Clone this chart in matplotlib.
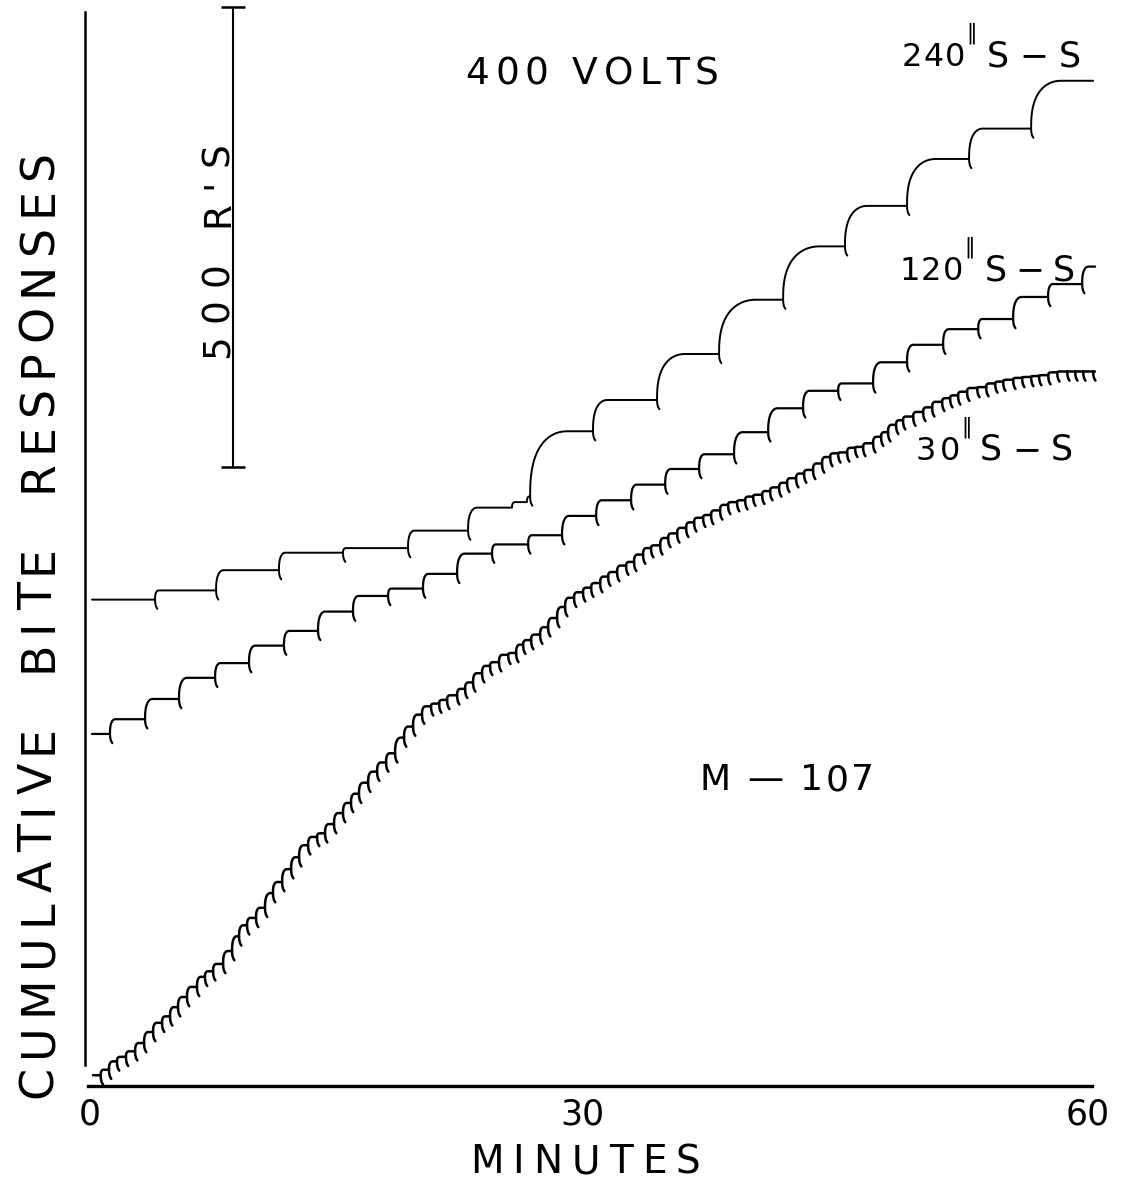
import numpy as np
import matplotlib
matplotlib.use("Agg")
import matplotlib.pyplot as plt
from matplotlib.collections import LineCollection
from matplotlib.transforms import IdentityTransform, ScaledTranslation

# ---------------- data (minutes, cumulative responses) ----------------
# 240" shock-shock interval
S240_START_T, S240_START_R, S240_END_T = 0.12, 520, 60.31
S240_SHOCK_T = [3.91, 7.58, 11.36, 15.21, 19.12, 22.73, 26.46, 30.24, 34.09,
                37.82, 41.67, 45.39, 49.12, 52.85, 56.58]
S240_LEVEL = [530, 552, 571, 576, 595, 620, 703, 737, 787,
              846, 904, 948, 999, 1032, 1084]
S240_INTERIM_T = [25.37, 26.27]
S240_INTERIM_R = [626, 632]

# 120" shock-shock interval
S120_START_T, S120_START_R, S120_END_T = 0.12, 374, 60.43
S120_SHOCK_T = [1.20, 3.31, 5.35, 7.52, 9.56, 11.66, 13.71, 15.81, 17.92, 20.02,
                22.07, 24.17, 26.34, 28.38, 30.43, 32.53, 34.58, 36.62, 38.72, 40.77,
                42.87, 44.98, 47.08, 49.12, 51.29, 53.40, 55.50, 57.60, 59.65]
S120_LEVEL = [390, 412, 435, 451, 470, 486, 507, 524, 532, 548,
              570, 580, 590, 611, 628, 645, 662, 678, 702, 728,
              747, 755, 778, 797, 814, 825, 849, 863, 882]

# 30" shock-shock interval
S30_START_T, S30_START_R, S30_END_T = 0.18, 3, 60.42
S30_SHOCK_T = [0.64, 1.14, 1.62, 2.16, 2.71, 3.25, 3.79, 4.33, 4.81, 5.29,
               5.83, 6.43, 6.91, 7.40, 8.00, 8.54, 8.96, 9.44, 9.98, 10.52,
               11.00, 11.55, 12.09, 12.57, 13.11, 13.65, 14.13, 14.67, 15.21, 15.69,
               16.17, 16.72, 17.26, 17.80, 18.34, 18.88, 19.42, 19.96, 20.50, 20.99,
               21.47, 22.07, 22.55, 23.03, 23.57, 24.05, 24.59, 25.14, 25.62, 26.04,
               26.52, 27.06, 27.54, 28.08, 28.56, 29.10, 29.64, 30.13, 30.67, 31.15,
               31.69, 32.23, 32.71, 33.25, 33.73, 34.28, 34.76, 35.30, 35.84, 36.32,
               36.86, 37.34, 37.88, 38.36, 38.90, 39.39, 39.87, 40.41, 40.89, 41.43,
               41.91, 42.45, 42.93, 43.47, 44.01, 44.50, 44.98, 45.52, 46.00, 46.48,
               47.08, 47.56, 47.98, 48.46, 48.88, 49.49, 50.09, 50.63, 51.23, 51.71,
               52.19, 52.73, 53.34, 53.88, 54.42, 54.90, 55.50, 56.04, 56.58, 57.06,
               57.61, 58.15, 58.75, 59.23, 59.71, 60.31]
S30_LEVEL = [9, 18, 23, 29, 38, 50, 60, 67, 77, 88,
             99, 110, 116, 124, 138, 154, 166, 174, 185, 201,
             213, 227, 240, 253, 262, 266, 276, 288, 299, 309,
             321, 333, 343, 353, 370, 382, 395, 404, 407, 411,
             416, 423, 430, 440, 448, 452, 460, 462, 471, 476,
             482, 490, 500, 512, 522, 528, 533, 538, 545, 550,
             557, 561, 569, 576, 579, 587, 592, 598, 604, 609,
             612, 617, 623, 626, 628, 632, 634, 638, 642, 647,
             652, 657, 661, 668, 675, 679, 680, 685, 686, 690,
             697, 702, 710, 715, 719, 724, 729, 735, 739, 742,
             746, 750, 751, 755, 757, 759, 761, 762, 763, 764,
             767, 768, 768, 768, 768, 768]

SCALE_BAR_T = 8.6
SCALE_BAR_BOTTOM = 664
SCALE_BAR_LEN = 500

X_TICKS = [0, 30, 60]
X_TICK_LABELS = ["0", "30", "60"]

# ---------------- figure ----------------
W, H, DPI = 1123, 1182, 100
FONT = "DejaVu Sans"
fig = plt.figure(figsize=(W / DPI, H / DPI), dpi=DPI)
fig.patch.set_facecolor("white")
ax = fig.add_axes([85.0 / W, 96.0 / H, (1097.96 - 85.0) / W, 1086.0 / H])
ax.set_xlim(-0.3, 60.6)
ax.set_ylim(-8.7, 1171.8)
ax.set_facecolor("none")

for s in ("top", "right"):
    ax.spines[s].set_visible(False)
ax.spines["left"].set_bounds(14, 1159)
ax.spines["left"].set_linewidth(1.8)
ax.spines["bottom"].set_bounds(-0.12, 60.24)
ax.spines["bottom"].set_linewidth(2.4)
ax.set_yticks([])
ax.set_xticks(X_TICKS)
ax.set_xticklabels(X_TICK_LABELS, fontsize=25, family=FONT)
ax.tick_params(axis="x", length=0, pad=8)
# the middle label sits slightly left of its tick in the original
mid = ax.get_xticklabels()[1]
mid.set_transform(mid.get_transform() + ScaledTranslation(-7 / DPI, 0, fig.dpi_scale_trans))


def draw_record(t0, r0, shock_t, shock_r, t_end, lw, interim_t=(), interim_r=()):
    events = [(t, r, True) for t, r in zip(shock_t, shock_r)]
    events += [(t, r, False) for t, r in zip(interim_t, interim_r)]
    events.sort()
    xs, ys, ticks = [t0], [r0], []
    prev = r0
    for i, (t, r, tick) in enumerate(events):
        nxt = events[i + 1][0] if i + 1 < len(events) else t_end
        xs.append(t)
        ys.append(prev)
        dr = r - prev
        if dr > 0:
            w = float(np.clip(0.16 + 0.0006 * dr ** 2, 0.16, 2.2))
            w = min(w, 0.65 * (nxt - t))
            u = np.linspace(0, 1, 20)
            xs.extend(t + w * (1 - np.cos(np.pi / 2 * u)) ** 1.25)
            ys.extend(prev + dr * np.sin(np.pi / 2 * u))
        if tick:
            ticks.append([(t, prev), (t + 0.015, prev - 4), (t + 0.06, prev - 7.5),
                          (t + 0.14, prev - 10)])
        prev = r
    xs.append(t_end)
    ys.append(prev)
    ax.plot(xs, ys, color="black", lw=lw, solid_joinstyle="round",
            solid_capstyle="round")
    ax.add_collection(LineCollection(ticks, colors="black", linewidths=lw,
                                     capstyle="round"))


draw_record(S240_START_T, S240_START_R, S240_SHOCK_T, S240_LEVEL, S240_END_T, 1.4,
            S240_INTERIM_T, S240_INTERIM_R)
draw_record(S120_START_T, S120_START_R, S120_SHOCK_T, S120_LEVEL, S120_END_T, 1.6)
draw_record(S30_START_T, S30_START_R, S30_SHOCK_T, S30_LEVEL, S30_END_T, 1.8)

# scale bar
ax.errorbar([SCALE_BAR_T], [SCALE_BAR_BOTTOM + SCALE_BAR_LEN / 2],
            yerr=[SCALE_BAR_LEN / 2], color="black", lw=1.5, capsize=8.5,
            capthick=1.8, fmt="none")

# ---------------- lettering ----------------
renderer = fig.canvas.get_renderer()


def ink_width(ch, size, family):
    if ch == " ":
        return 0.30 * size * DPI / 72
    t = fig.text(0, 0, ch, fontsize=size, family=family)
    w = t.get_window_extent(renderer).width
    t.remove()
    return w


def tracked(xd, yd, s, size, length, rotation=0, ha="center", va="baseline",
            family=FONT):
    ws = [ink_width(c, size, family) for c in s]
    track = (length - sum(ws)) / max(len(s) - 1, 1)
    total = sum(ws) + track * (len(s) - 1)
    start = {"center": -total / 2, "left": 0.0, "right": -total}[ha]
    dx, dy = (1, 0) if rotation == 0 else (0, 1)
    pos = start
    for c, w in zip(s, ws):
        cp = pos + w / 2
        if c != " ":
            fig.text(xd + dx * cp, yd + dy * cp, c, fontsize=size, family=family,
                     rotation=rotation, rotation_mode="anchor", ha="center",
                     va=va, transform=IdentityTransform())
        pos += w + track


def data2disp(t, r):
    return ax.transData.transform((t, r))


def disp_px(xp, yp):
    # pixel position measured from the top-left corner of the picture
    return xp, H - yp


def ss_label(digits, t_right, r_base, digits_len, ss_len, gap=22):
    x, y = data2disp(t_right, r_base)
    tracked(x, y, digits, 23, digits_len, ha="right")
    fig.text(x + 1, y + 22, "\u2016", fontsize=15, family=FONT, ha="left",
             va="bottom", transform=IdentityTransform())
    tracked(x + gap, y, "S\u2212S", 25, ss_len, ha="left")


# series labels
ss_label("240", 52.6, 1100, 63, 94)
ss_label("120", 52.49, 867, 64, 90)
ss_label("30", 52.31, 672, 45, 93, gap=20)

x, y = data2disp(30.18, 1080)
tracked(x, y, "400 VOLTS", 27, 253)

x, y = data2disp(41.9, 313)
tracked(x, y, "M \u2014 107", 26, 175)

x, y = data2disp(8.3, 900)
tracked(x, y, "500 R'S", 27, 215, rotation=90)

# axis titles
x, y = disp_px(52, 624)
tracked(x, y, "CUMULATIVE  BITE  RESPONSES", 33, 948, rotation=90)
x, y = disp_px(585, 1173)
tracked(x, y, "MINUTES", 28, 230)

fig.savefig("out.png", dpi=DPI, facecolor="white")
